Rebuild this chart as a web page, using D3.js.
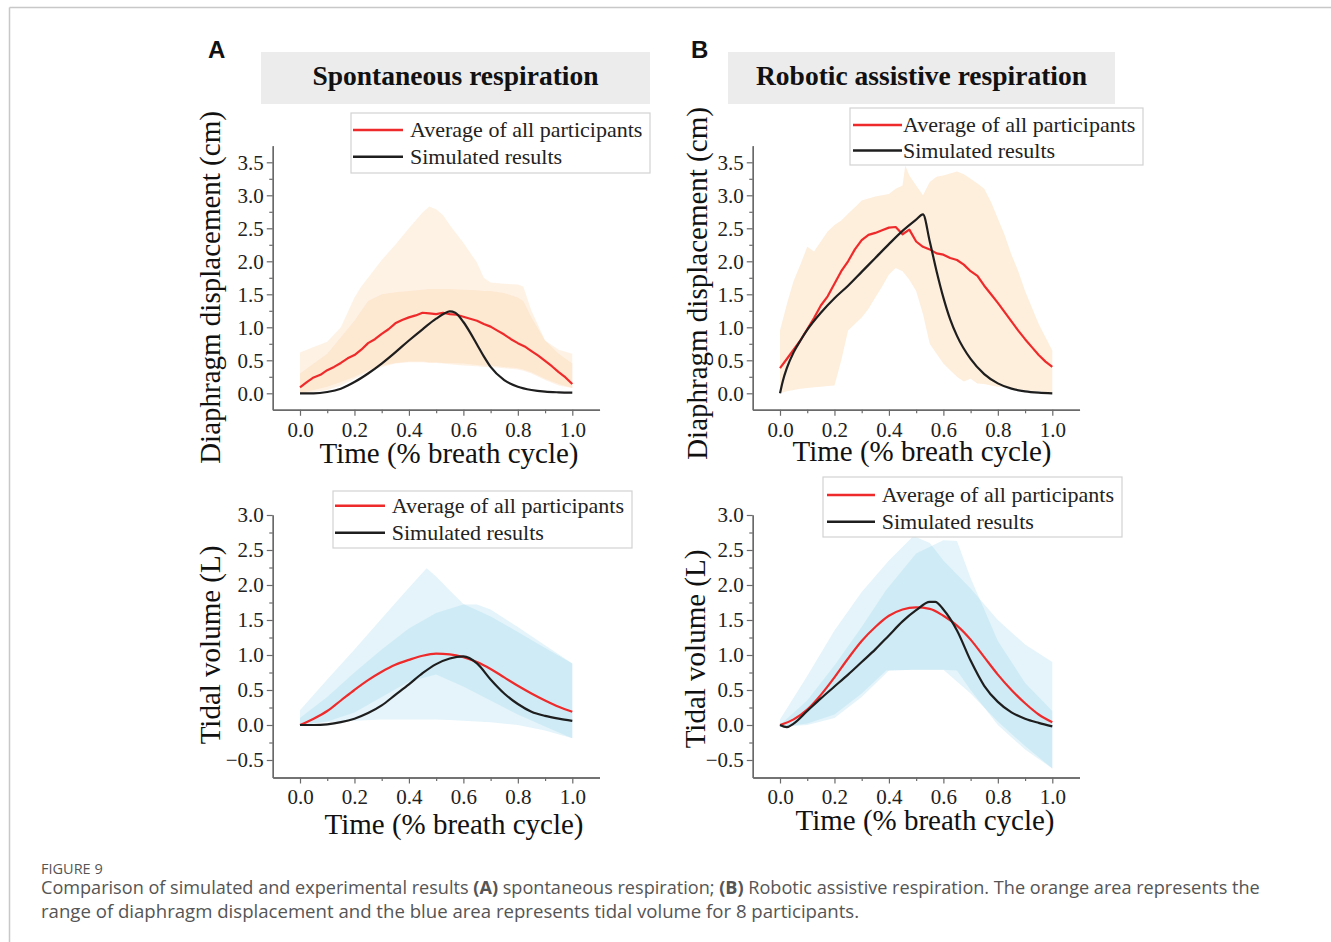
<!DOCTYPE html>
<html><head><meta charset="utf-8">
<script src="https://cdn.jsdelivr.net/npm/d3@7"></script>
<style>body{margin:0;background:#fff}svg{display:block}</style>
</head><body>
<svg id="c" width="1331" height="942"></svg>
<script>
// ---------------- DATA ----------------
const xTickValues = [0, 0.2, 0.4, 0.6, 0.8, 1.0];
const xMinorValues = [0.1, 0.3, 0.5, 0.7, 0.9];
const yTicksDisp = [0, 0.5, 1.0, 1.5, 2.0, 2.5, 3.0, 3.5];
const yMinorDisp = [0.25, 0.75, 1.25, 1.75, 2.25, 2.75, 3.25];
const yTicksVol = [-0.5, 0, 0.5, 1.0, 1.5, 2.0, 2.5, 3.0];
const yMinorVol = [-0.25, 0.25, 0.75, 1.25, 1.75, 2.25, 2.75];
const legendLabels = ["Average of all participants", "Simulated results"];
const panelTitles = ["Spontaneous respiration", "Robotic assistive respiration"];
const panelLetters = ["A", "B"];
const xLabel = "Time (% breath cycle)";
const yLabelDisp = "Diaphragm displacement (cm)";
const yLabelVol = "Tidal volume (L)";
const captionHead = "FIGURE 9";
const captionLine1 = [["Comparison of simulated and experimental results ", false], ["(A)", true], [" spontaneous respiration; ", false], ["(B)", true], [" Robotic assistive respiration. The orange area represents the", false]];
const captionLine2 = "range of diaphragm displacement and the blue area represents tidal volume for 8 participants.";

// diaphragm displacement, average of participants (noisy)
const tFine = [0,0.025,0.05,0.075,0.1,0.125,0.15,0.175,0.2,0.225,0.25,0.275,0.3,0.325,0.35,0.375,0.4,0.425,0.45,0.475,0.5,0.525,0.55,0.575,0.6,0.625,0.65,0.675,0.7,0.725,0.75,0.775,0.8,0.825,0.85,0.875,0.9,0.925,0.95,0.975,1.0];
const dispAvgA = [0.09,0.17,0.24,0.28,0.35,0.40,0.46,0.53,0.58,0.66,0.76,0.82,0.90,0.97,1.06,1.11,1.15,1.18,1.22,1.21,1.20,1.22,1.20,1.19,1.16,1.13,1.10,1.05,1.01,0.95,0.89,0.82,0.76,0.71,0.64,0.57,0.49,0.41,0.32,0.24,0.14];
const dispAvgB = [0.38,0.52,0.66,0.80,0.97,1.14,1.33,1.47,1.66,1.85,2.00,2.18,2.32,2.40,2.43,2.47,2.51,2.52,2.41,2.48,2.30,2.22,2.18,2.12,2.10,2.05,2.02,1.95,1.85,1.78,1.63,1.50,1.37,1.23,1.09,0.95,0.82,0.70,0.58,0.48,0.40];

// diaphragm displacement, simulated
const tSimDispA = [0,0.05,0.1,0.15,0.2,0.25,0.3,0.35,0.4,0.45,0.5,0.53,0.55,0.57,0.6,0.625,0.65,0.675,0.7,0.75,0.8,0.85,0.9,0.95,1.0];
const dispSimA = [0.0,0.0,0.02,0.07,0.17,0.30,0.45,0.62,0.80,0.97,1.13,1.21,1.24,1.22,1.08,0.92,0.74,0.56,0.40,0.20,0.10,0.05,0.025,0.015,0.01];
const tSimDispB = [0,0.01,0.025,0.05,0.075,0.1,0.15,0.2,0.25,0.3,0.35,0.4,0.45,0.5,0.525,0.55,0.575,0.6,0.625,0.65,0.7,0.75,0.8,0.85,0.9,0.95,1.0];
const dispSimB = [0.0,0.18,0.38,0.62,0.80,0.96,1.22,1.44,1.63,1.84,2.05,2.26,2.46,2.63,2.71,2.30,1.85,1.45,1.12,0.87,0.52,0.29,0.15,0.07,0.03,0.01,0.0];

// diaphragm displacement ranges (orange)
const tBandDispA = [0,0.05,0.1,0.15,0.2,0.225,0.25,0.3,0.35,0.4,0.45,0.475,0.5,0.525,0.55,0.6,0.65,0.675,0.7,0.75,0.8,0.82,0.85,0.9,0.95,1.0];
const dispHiA1 = [0.62,0.70,0.78,1.00,1.45,1.62,1.75,2.02,2.25,2.50,2.74,2.83,2.79,2.70,2.55,2.28,1.98,1.75,1.68,1.66,1.65,1.62,1.25,0.80,0.66,0.60];
const dispLoA1 = [0.0,0.02,0.05,0.12,0.22,0.27,0.32,0.40,0.45,0.47,0.47,0.46,0.46,0.45,0.44,0.42,0.41,0.40,0.40,0.38,0.36,0.34,0.30,0.20,0.12,0.08];
const dispHiA2 = [0.30,0.45,0.60,0.85,1.10,1.25,1.40,1.50,1.53,1.55,1.57,1.58,1.58,1.58,1.58,1.57,1.56,1.55,1.55,1.52,1.45,1.40,1.15,0.80,0.60,0.45];
const dispLoA2 = [0.0,0.05,0.10,0.17,0.25,0.30,0.35,0.42,0.46,0.48,0.48,0.47,0.47,0.46,0.46,0.45,0.43,0.42,0.42,0.40,0.38,0.36,0.32,0.22,0.14,0.08];
const tBandDispB = [0,0.025,0.05,0.075,0.1,0.125,0.15,0.175,0.2,0.225,0.25,0.275,0.3,0.325,0.35,0.375,0.4,0.425,0.45,0.46,0.475,0.5,0.525,0.55,0.575,0.6,0.625,0.65,0.675,0.7,0.725,0.75,0.775,0.8,0.825,0.85,0.875,0.9,0.925,0.95,0.975,1.0];
const dispHiB = [0.95,1.35,1.70,1.95,2.22,2.15,2.30,2.45,2.55,2.62,2.72,2.82,2.92,2.95,2.98,3.00,3.02,3.10,3.15,3.45,3.30,3.15,3.00,3.20,3.28,3.30,3.33,3.36,3.32,3.25,3.18,3.10,2.90,2.65,2.40,2.10,1.85,1.55,1.30,1.05,0.85,0.65];
const dispLoB = [0.0,0.03,0.05,0.07,0.08,0.09,0.10,0.11,0.12,0.50,0.95,1.05,1.15,1.28,1.45,1.62,1.80,1.90,1.85,1.80,1.72,1.55,1.20,0.75,0.60,0.45,0.35,0.25,0.18,0.22,0.15,0.14,0.12,0.10,0.09,0.08,0.06,0.05,0.04,0.03,0.02,0.01];

// tidal volume
const tVol = [0,0.05,0.1,0.15,0.2,0.25,0.3,0.35,0.4,0.45,0.5,0.55,0.6,0.65,0.7,0.75,0.8,0.85,0.9,0.95,1.0];
const volAvgA = [0.0,0.09,0.20,0.35,0.50,0.64,0.76,0.86,0.93,0.99,1.02,1.01,0.97,0.90,0.80,0.68,0.56,0.45,0.35,0.26,0.19];
const volSimA = [0.0,0.0,0.01,0.04,0.09,0.17,0.28,0.43,0.58,0.74,0.87,0.95,0.98,0.88,0.65,0.45,0.30,0.19,0.13,0.09,0.06];
const volAvgB = [0.0,0.08,0.22,0.43,0.68,0.95,1.20,1.40,1.56,1.65,1.68,1.66,1.56,1.42,1.22,0.97,0.72,0.50,0.31,0.15,0.04];
const tVolSimB = [0,0.025,0.05,0.1,0.15,0.2,0.25,0.3,0.35,0.4,0.45,0.5,0.55,0.57,0.6,0.65,0.7,0.75,0.8,0.85,0.9,0.95,1.0];
const volSimB = [0.0,-0.03,0.02,0.20,0.38,0.55,0.72,0.90,1.08,1.28,1.48,1.64,1.76,1.76,1.65,1.35,0.92,0.56,0.33,0.18,0.09,0.03,-0.02];

// tidal volume ranges (blue)
const tBandVolA1 = [0,0.1,0.2,0.3,0.4,0.465,0.5,0.55,0.6,0.7,0.8,0.9,1.0];
const volHiA1 = [0.21,0.65,1.08,1.52,1.96,2.24,2.12,1.92,1.73,1.55,1.33,1.10,0.88];
const volLoA1 = [0.0,0.04,0.06,0.08,0.08,0.08,0.08,0.07,0.06,0.04,0.0,-0.08,-0.19];
const tBandVolA2 = [0,0.1,0.2,0.3,0.4,0.5,0.6,0.65,0.7,0.8,0.9,1.0];
const volHiA2 = [0.10,0.40,0.75,1.08,1.38,1.60,1.72,1.72,1.65,1.40,1.14,0.88];
const volLoA2 = [0.0,0.05,0.18,0.40,0.62,0.72,0.55,0.45,0.35,0.15,-0.02,-0.19];
const tBandVolB1 = [0,0.1,0.2,0.3,0.4,0.49,0.55,0.6,0.7,0.8,0.9,1.0];
const volHiB1 = [0.08,0.70,1.35,1.90,2.35,2.70,2.60,2.35,1.95,1.50,1.15,0.90];
const volLoB1 = [-0.03,0.0,0.10,0.40,0.78,0.79,0.79,0.79,0.45,0.05,-0.30,-0.62];
const tBandVolB2 = [0,0.1,0.2,0.3,0.39,0.5,0.6,0.65,0.7,0.8,0.9,1.0];
const volHiB2 = [0.0,0.35,0.85,1.40,1.93,2.45,2.64,2.63,2.10,1.20,0.60,0.20];
const volLoB2 = [-0.03,0.02,0.15,0.45,0.78,0.79,0.79,0.78,0.50,0.0,-0.35,-0.62];

// ---------------- DRAWING ----------------
const svg = d3.select("#c");
const SERIF = "'Liberation Serif','Times New Roman',serif";
const RED = "#ee2a2a", BLACK = "#1e1e1e";
const ORANGE = "#fbcf9f", BLUE = "#84cde9";

// frame
svg.append("line").attr("x1", 9.5).attr("x2", 9.5).attr("y1", 7.5).attr("y2", 942).attr("stroke", "#c8c8c8").attr("stroke-width", 1.5);
svg.append("line").attr("x1", 9.5).attr("x2", 1331).attr("y1", 7.5).attr("y2", 7.5).attr("stroke", "#c8c8c8").attr("stroke-width", 1.5);

const zip = (t, a) => t.map((v, i) => ({t: v, v: a[i]}));
const zipBand = (t, lo, hi) => t.map((v, i) => ({t: v, lo: lo[i], hi: hi[i]}));

function panel(cfg) {
  const g = svg.append("g");
  const x = d3.scaleLinear().domain([-0.1, 1.1]).range([cfg.x0 - 27.23, cfg.x0 + 272.3 + 27.23]);
  const y = d3.scaleLinear().domain(cfg.yDomain).range([cfg.y0 - cfg.yDomain[0] * cfg.ys, cfg.y0 - cfg.yDomain[1] * cfg.ys]);

  // bands
  const area = d3.area().x(d => x(d.t)).y0(d => y(d.lo)).y1(d => y(d.hi)).curve(d3.curveLinear);
  cfg.bands.forEach(b => {
    g.append("path").datum(zipBand(b.t, b.lo, b.hi)).attr("d", area)
      .attr("fill", cfg.bandColor).attr("fill-opacity", cfg.bandOpacity);
  });

  // axes
  const yBase = y(cfg.yDomain[0]);
  const xLeft = x(-0.1);
  const axCol = "#6a6a6a";
  g.append("g").attr("transform", `translate(0,${yBase})`)
    .call(d3.axisBottom(x).tickValues(xTickValues).tickFormat(d3.format(".1f")).tickSize(6).tickSizeOuter(0).tickPadding(6));
  g.append("g").attr("transform", `translate(0,${yBase})`)
    .call(d3.axisBottom(x).tickValues(xMinorValues).tickFormat("").tickSize(3.5).tickSizeOuter(0));
  g.append("g").attr("transform", `translate(${xLeft},0)`)
    .call(d3.axisLeft(y).tickValues(cfg.yTicks).tickFormat(d3.format(".1f")).tickSize(6).tickSizeOuter(0).tickPadding(3));
  g.append("g").attr("transform", `translate(${xLeft},0)`)
    .call(d3.axisLeft(y).tickValues(cfg.yMinor).tickFormat("").tickSize(3.5).tickSizeOuter(0));
  g.selectAll(".domain").attr("stroke", axCol).attr("stroke-width", 1.4);
  g.selectAll(".tick line").attr("stroke", axCol).attr("stroke-width", 1.2);
  g.selectAll(".tick text").attr("font-family", SERIF).attr("font-size", 21).attr("fill", "#222");

  // lines
  const line = d3.line().x(d => x(d.t)).y(d => y(d.v));
  g.append("path").datum(zip(cfg.red.t, cfg.red.v)).attr("d", line.curve(cfg.redCurve)).attr("fill", "none").attr("stroke", RED).attr("stroke-width", 2.2).attr("stroke-linejoin", "round");
  g.append("path").datum(zip(cfg.black.t, cfg.black.v)).attr("d", line.curve(d3.curveMonotoneX)).attr("fill", "none").attr("stroke", BLACK).attr("stroke-width", 2.2).attr("stroke-linejoin", "round");

  // axis titles
  g.append("text").attr("x", cfg.xtX).attr("y", cfg.xtY).attr("text-anchor", "middle")
    .attr("font-family", SERIF).attr("font-size", 29).attr("fill", "#111").text(xLabel);
  g.append("text").attr("transform", `translate(${cfg.ytX},${cfg.ytY}) rotate(-90)`).attr("text-anchor", "middle")
    .attr("font-family", SERIF).attr("font-size", 29).attr("fill", "#111").text(cfg.yLabel);

  // legend
  const L = cfg.legend;
  g.append("rect").attr("x", L.x).attr("y", L.y).attr("width", L.w).attr("height", L.h)
    .attr("fill", "#fff").attr("fill-opacity", 0.85).attr("stroke", "#d2d2d2").attr("stroke-width", 1.2);
  [RED, BLACK].forEach((c, i) => {
    const ly = L.row0 + i * L.dy;
    g.append("line").attr("x1", L.lx0).attr("x2", L.lx1).attr("y1", ly).attr("y2", ly).attr("stroke", c).attr("stroke-width", 2.4);
    g.append("text").attr("x", L.tx).attr("y", ly + 7.3).attr("font-family", SERIF).attr("font-size", 22).attr("fill", "#222").text(legendLabels[i]);
  });
}

// titles and letters
[[261, 389, 455.5], [728, 387, 921.5]].forEach((p, i) => {
  svg.append("rect").attr("x", p[0]).attr("y", 52).attr("width", p[1]).attr("height", 52).attr("fill", "#ececec");
  svg.append("text").attr("x", p[2]).attr("y", 85).attr("text-anchor", "middle").attr("font-family", SERIF)
    .attr("font-weight", "bold").attr("font-size", 27.5).attr("fill", "#111").text(panelTitles[i]);
});
[[208, 58], [691, 58]].forEach((p, i) => {
  svg.append("text").attr("x", p[0]).attr("y", p[1]).attr("font-family", "'Liberation Sans',Arial,sans-serif")
    .attr("font-weight", "bold").attr("font-size", 24).attr("fill", "#111").text(panelLetters[i]);
});

panel({x0: 300, y0: 393.3, ys: 66, yDomain: [-0.25, 3.75], yTicks: yTicksDisp, yMinor: yMinorDisp,
  bandColor: ORANGE, bandOpacity: 0.27, bands: [{t: tBandDispA, lo: dispLoA1, hi: dispHiA1}, {t: tBandDispA, lo: dispLoA2, hi: dispHiA2}],
  red: {t: tFine, v: dispAvgA}, redCurve: d3.curveLinear, black: {t: tSimDispA, v: dispSimA},
  xtX: 449, xtY: 463, ytX: 220, ytY: 287.5, yLabel: yLabelDisp,
  legend: {x: 351, y: 113, w: 299, h: 60, row0: 130, dy: 26.7, lx0: 353, lx1: 403, tx: 410}});

panel({x0: 780, y0: 393.3, ys: 66, yDomain: [-0.25, 3.75], yTicks: yTicksDisp, yMinor: yMinorDisp,
  bandColor: ORANGE, bandOpacity: 0.36, bands: [{t: tBandDispB, lo: dispLoB, hi: dispHiB}],
  red: {t: tFine, v: dispAvgB}, redCurve: d3.curveLinear, black: {t: tSimDispB, v: dispSimB},
  xtX: 922, xtY: 461, ytX: 707, ytY: 283.5, yLabel: yLabelDisp,
  legend: {x: 850, y: 108, w: 293, h: 57, row0: 125, dy: 25.5, lx0: 853, lx1: 902, tx: 903}});

panel({x0: 300, y0: 725, ys: 70, yDomain: [-0.75, 3.0], yTicks: yTicksVol, yMinor: yMinorVol,
  bandColor: BLUE, bandOpacity: 0.22, bands: [{t: tBandVolA1, lo: volLoA1, hi: volHiA1}, {t: tBandVolA2, lo: volLoA2, hi: volHiA2}],
  red: {t: tVol, v: volAvgA}, redCurve: d3.curveMonotoneX, black: {t: tVol, v: volSimA},
  xtX: 454, xtY: 834, ytX: 220, ytY: 645, yLabel: yLabelVol,
  legend: {x: 333, y: 491, w: 299, h: 57, row0: 505.7, dy: 27, lx0: 335, lx1: 385, tx: 391.7}});

panel({x0: 780, y0: 725, ys: 70, yDomain: [-0.75, 3.0], yTicks: yTicksVol, yMinor: yMinorVol,
  bandColor: BLUE, bandOpacity: 0.22, bands: [{t: tBandVolB1, lo: volLoB1, hi: volHiB1}, {t: tBandVolB2, lo: volLoB2, hi: volHiB2}],
  red: {t: tVol, v: volAvgB}, redCurve: d3.curveMonotoneX, black: {t: tVolSimB, v: volSimB},
  xtX: 925, xtY: 830, ytX: 705, ytY: 649, yLabel: yLabelVol,
  legend: {x: 823, y: 477, w: 299, h: 60, row0: 495, dy: 26.7, lx0: 827, lx1: 875, tx: 881.7}});

// caption
const CAP = "'Open Sans','Noto Sans',sans-serif";
svg.append("text").attr("x", 41).attr("y", 874).attr("font-family", CAP).attr("font-size", 14.5).attr("fill", "#555").text(captionHead);
const l1 = svg.append("text").attr("x", 41).attr("y", 894).attr("font-family", CAP).attr("font-size", 18.1).attr("fill", "#555");
captionLine1.forEach(([s, b]) => l1.append("tspan").attr("font-weight", b ? "bold" : "normal").text(s));
svg.append("text").attr("x", 41).attr("y", 918).attr("font-family", CAP).attr("font-size", 18.6).attr("fill", "#555").text(captionLine2);
</script>
</body></html>
